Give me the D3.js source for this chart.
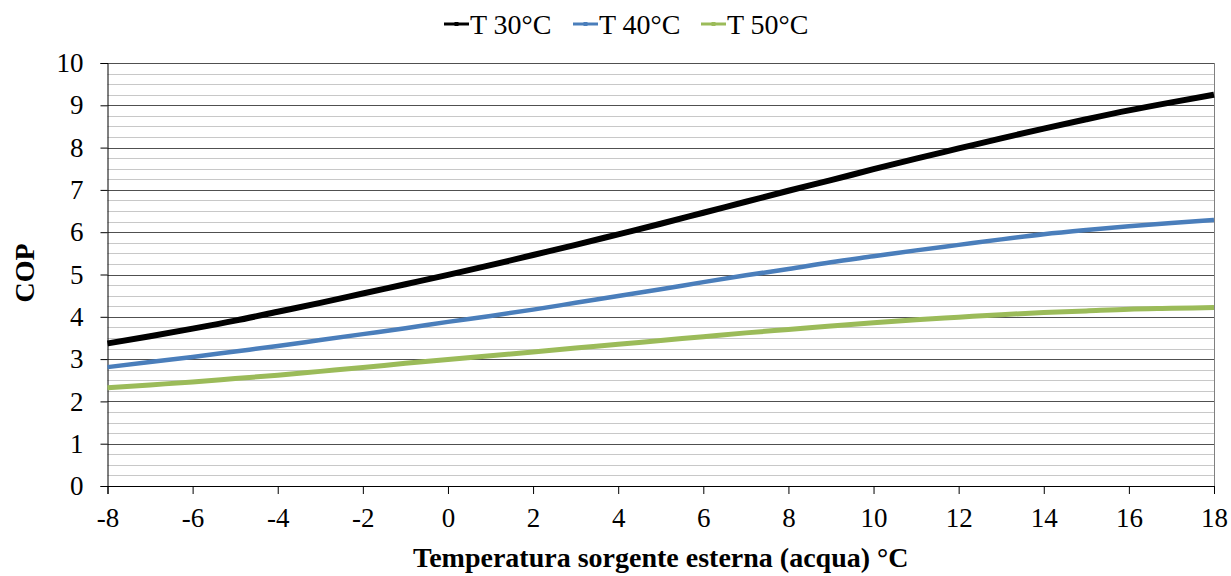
<!DOCTYPE html>
<html>
<head>
<meta charset="utf-8">
<script src="https://cdn.jsdelivr.net/npm/d3@7/dist/d3.min.js"></script>
<style>
  html, body { margin: 0; padding: 0; background: #fff; }
  svg, svg text { font-family: "Liberation Serif", "Times New Roman", serif !important; }
</style>
</head>
<body>
<svg id="chart" width="1231" height="576"></svg>
<script>
// Outdoor source temperature (°C), one point per degree
const temps = d3.range(-8, 19);

// COP for each delivery temperature
const cop30 = [3.37, 3.54, 3.72, 3.91, 4.12, 4.33, 4.55, 4.77, 4.99, 5.22, 5.46, 5.70, 5.95,
               6.20, 6.46, 6.72, 6.98, 7.23, 7.49, 7.74, 7.98, 8.22, 8.45, 8.67, 8.88, 9.07, 9.25];
const cop40 = [2.81, 2.93, 3.05, 3.18, 3.31, 3.45, 3.59, 3.73, 3.88, 4.02, 4.17, 4.33, 4.49,
               4.65, 4.82, 4.98, 5.13, 5.29, 5.43, 5.57, 5.70, 5.83, 5.95, 6.05, 6.14, 6.22, 6.29];
const cop50 = [2.32, 2.39, 2.46, 2.54, 2.62, 2.71, 2.80, 2.90, 2.99, 3.08, 3.17, 3.26, 3.35,
               3.44, 3.53, 3.62, 3.70, 3.78, 3.86, 3.93, 3.99, 4.05, 4.10, 4.14, 4.18, 4.20, 4.22];

const seriesNames = ["T 30°C", "T 40°C", "T 50°C"];
const xTicks = d3.range(-8, 19, 2);
const yTicks = d3.range(0, 11, 1);
const xTitle = "Temperatura sorgente esterna (acqua) °C";
const yTitle = "COP";

(function draw() {
  const series = [
    { name: seriesNames[0], values: cop30, color: "#000000", width: 6 },
    { name: seriesNames[1], values: cop40, color: "#4a7ebb", width: 4.5 },
    { name: seriesNames[2], values: cop50, color: "#9bbb59", width: 5 }
  ];

  const serif = '"Liberation Serif", "Times New Roman", serif';
  const svg = d3.select("#chart");
  const plotLeft = 107.5, plotRight = 1214, plotTop = 63, plotBottom = 486;

  const x = d3.scaleLinear().domain([-8, 18]).range([plotLeft, plotRight]);
  const y = d3.scaleLinear().domain([0, 10]).range([plotBottom, plotTop]);

  // minor gridlines every 0.25
  const minor = d3.range(0.25, 10, 0.25).filter(v => Math.abs(v - Math.round(v)) > 1e-6);
  svg.append("g").selectAll("line").data(minor).join("line")
    .attr("x1", plotLeft).attr("x2", plotRight)
    .attr("y1", d => Math.round(y(d)) + 0.5).attr("y2", d => Math.round(y(d)) + 0.5)
    .attr("stroke", "#c8c8c8").attr("stroke-width", 1);

  // major gridlines
  svg.append("g").selectAll("line").data(yTicks.filter(d => d > 0)).join("line")
    .attr("x1", plotLeft).attr("x2", plotRight)
    .attr("y1", d => Math.round(y(d)) + 0.5).attr("y2", d => Math.round(y(d)) + 0.5)
    .attr("stroke", "#505050").attr("stroke-width", 1);

  // right border of plot area
  svg.append("line")
    .attr("x1", plotRight + 0.5).attr("x2", plotRight + 0.5)
    .attr("y1", plotTop).attr("y2", plotBottom)
    .attr("stroke", "#808080").attr("stroke-width", 1);

  // y axis
  const yAxis = svg.append("g")
    .attr("transform", `translate(${plotLeft},0)`)
    .call(d3.axisLeft(y).tickValues(yTicks).tickSize(7).tickPadding(17).tickFormat(d3.format("d")));
  yAxis.attr("font-family", null).attr("font-size", null);
  yAxis.select(".domain").attr("stroke", "#000");
  yAxis.selectAll(".tick line").attr("stroke", "#000");
  yAxis.selectAll("text").style("font-family", serif).style("font-size", "27px").attr("fill", "#000");

  // x axis
  const xAxis = svg.append("g")
    .attr("transform", `translate(0,${plotBottom})`)
    .call(d3.axisBottom(x).tickValues(xTicks).tickSize(8).tickPadding(14).tickFormat(d3.format("d")));
  xAxis.attr("font-family", null).attr("font-size", null);
  xAxis.select(".domain").attr("stroke", "#000");
  xAxis.selectAll(".tick line").attr("stroke", "#000");
  xAxis.selectAll("text").style("font-family", serif).style("font-size", "27px").attr("fill", "#000")
    .text(d => d < 0 ? "-" + Math.abs(d) : d);

  // series lines
  const line = d3.line()
    .x((d, i) => x(temps[i]))
    .y(d => y(d))
    .curve(d3.curveMonotoneX);

  svg.append("g").selectAll("path").data(series).join("path")
    .attr("d", d => line(d.values))
    .attr("fill", "none")
    .attr("stroke", d => d.color)
    .attr("stroke-width", d => d.width)
    .attr("stroke-linejoin", "round");

  // axis titles
  svg.append("text")
    .attr("x", (plotLeft + plotRight) / 2).attr("y", 567)
    .attr("text-anchor", "middle")
    .style("font-size", "28px").attr("font-weight", "bold")
    .text(xTitle);

  svg.append("text")
    .attr("transform", `translate(34,273) rotate(-90)`)
    .attr("text-anchor", "middle")
    .style("font-size", "28px").attr("font-weight", "bold")
    .text(yTitle);

  // legend
  const legendX = [444, 573, 701];
  const legend = svg.append("g").selectAll("g").data(series).join("g")
    .attr("transform", (d, i) => `translate(${legendX[i]},24)`);
  legend.append("line")
    .attr("x1", 0).attr("x2", 25).attr("y1", 0).attr("y2", 0)
    .attr("stroke", d => d.color).attr("stroke-width", 3);
  legend.append("rect")
    .attr("x", 10.5).attr("y", -2).attr("width", 4).attr("height", 4)
    .attr("fill", d => d.color);
  legend.append("text")
    .attr("x", 26).attr("y", 10)
    .style("font-size", "28px")
    .text(d => d.name);
})();
</script>
</body>
</html>
